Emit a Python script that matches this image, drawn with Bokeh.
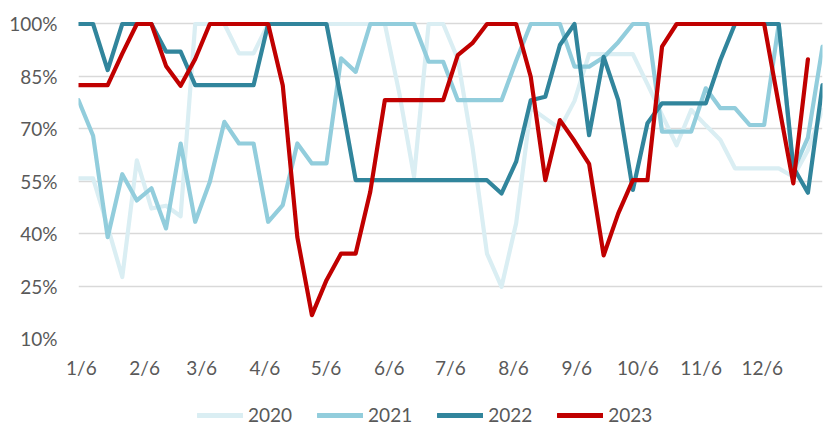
from bokeh.plotting import figure
from bokeh.layouts import column
from bokeh.models import Range1d, FixedTicker, Legend, LegendItem
from bokeh.embed import file_html
from bokeh.resources import INLINE

# ---- data (weekly readings, share in %) ----
s2020 = [55.8, 55.8, 42, 27.6, 61, 47.2, 48, 45, 100, 100,
         100, 91.6, 91.6, 100, 100, 100, 100, 100, 100, 100,
         100, 100, 80, 56.3, 100, 100, 90, 65, 34.3, 24.8,
         43, 76, 73, 70, 78, 91.4, 91.4, 91.4, 91.4, 82.8,
         74, 65.3, 75.4, 71, 66.8, 58.7, 58.7, 58.7, 58.7, 56.3,
         63.9, 75.4]
s2021 = [78.2, 68, 39, 57, 49.5, 53, 41.5, 65.8, 43.4, 54.8,
         72, 65.8, 65.8, 43.4, 48.2, 65.8, 60.1, 60.1, 90.2, 86.3,
         100, 100, 100, 100, 89.2, 89.2, 78.2, 78.2, 78.2, 78.2,
         89.5, 100, 100, 100, 87.8, 87.8, 90.5, 94.8, 100, 100,
         69.2, 69.2, 69.2, 81.6, 75.9, 75.9, 71.1, 71.1, 100, 58,
         67.5, 93.5]
s2022 = [100, 100, 86.8, 100, 100, 100, 92.1, 92.1, 82.5, 82.5,
         82.5, 82.5, 82.5, 100, 100, 100, 100, 100, 78.5, 55.3,
         55.3, 55.3, 55.3, 55.3, 55.3, 55.3, 55.3, 55.3, 55.3, 51.5,
         60.6, 78.2, 79.2, 94, 100, 68.2, 90.6, 78.2, 52.5, 71.6,
         77.3, 77.3, 77.3, 77.3, 89.7, 100, 100, 100, 100, 59,
         51.7, 82.5]
s2023 = [82.5, 82.5, 82.5, 91.5, 100, 100, 88, 82.3, 90, 100,
         100, 100, 100, 100, 82.5, 39, 16.7, 26.7, 34.3, 34.3,
         52, 78.2, 78.2, 78.2, 78.2, 78.2, 91.1, 94.5, 100, 100,
         100, 84.9, 55.3, 72.5, 66.5, 60, 33.8, 45.8, 55.3, 55.3,
         93.5, 100, 100, 100, 100, 100, 100, 100, 77, 54.4,
         89.9]
years = ["2020", "2021", "2022", "2023"]
colors = ["#DAEEF3", "#92CDDC", "#31859C", "#C00000"]

# x-axis: month labels at day offsets from 6 January
month_days = [0, 31, 59, 90, 120, 151, 181, 212, 243, 273, 304, 334]
month_labels = ["1/6", "2/6", "3/6", "4/6", "5/6", "6/6", "7/6", "8/6",
                "9/6", "10/6", "11/6", "12/6"]
y_ticks = [10, 25, 40, 55, 70, 85, 100]

n_weeks = len(s2021)
days_per_step = 365 / (n_weeks - 1)
x_ticks = [0.2 + d / days_per_step for d in month_days]

TXT = "#595959"
FONT = "Lato"
LW = 4.2

p = figure(frame_width=744, frame_height=318,
           x_range=Range1d(0, n_weeks - 1), y_range=Range1d(10, 101),
           output_backend="svg", toolbar_location=None,
           min_border_left=78, min_border_right=5, min_border_top=20,
           min_border_bottom=44)
p.outline_line_color = None
p.background_fill_color = "white"
p.border_fill_color = "white"

for name, ser, col in zip(years, [s2020, s2021, s2022, s2023], colors):
    xs = list(range(len(ser)))
    p.line(xs, ser, line_color=col, line_width=LW,
           line_cap="round", line_join="round")

p.xgrid.grid_line_color = None
p.ygrid.grid_line_color = "#D9D9D9"
p.ygrid.grid_line_width = 1.3
p.yaxis.ticker = FixedTicker(ticks=y_ticks)
p.yaxis.major_label_overrides = {t: f"{t}%" for t in y_ticks}
p.xaxis.ticker = FixedTicker(ticks=x_ticks)
p.xaxis.major_label_overrides = {t: lab for t, lab in zip(x_ticks, month_labels)}

for ax in (p.xaxis[0], p.yaxis[0]):
    ax.axis_line_color = None
    ax.major_tick_line_color = None
    ax.minor_tick_line_color = None
    ax.major_tick_out = 0
    ax.major_tick_in = 0
    ax.major_label_text_font = FONT
    ax.major_label_text_font_size = "19px"
    ax.major_label_text_color = TXT
p.xaxis.major_label_standoff = 17
p.yaxis.major_label_standoff = 21

# ---- legend strip below the chart ----
leg = figure(width=827, height=44, x_range=Range1d(0, 1), y_range=Range1d(0, 1),
             output_backend="svg", toolbar_location=None, min_border=0,
             x_axis_location=None, y_axis_location=None)
leg.grid.visible = False
leg.outline_line_color = None
leg.background_fill_color = "white"
leg.border_fill_color = "white"
items = []
for name, col in zip(years, colors):
    # legend swatch renderer, kept outside the visible range
    r = leg.line([-10, -9], [-10, -9], line_color=col, line_width=LW + 0.6,
                 line_cap="round")
    items.append(LegendItem(label=name, renderers=[r]))
legend = Legend(items=items, orientation="horizontal", location=(119, 0),
                border_line_color=None, background_fill_alpha=0,
                label_text_font=FONT, label_text_font_size="19px",
                label_text_color=TXT, glyph_width=46, glyph_height=14,
                label_height=14, label_standoff=5, spacing=25,
                padding=0, margin=0)
leg.add_layout(legend, "center")

layout = column(p, leg, spacing=0)
open("out.html", "w").write(file_html(layout, INLINE))
